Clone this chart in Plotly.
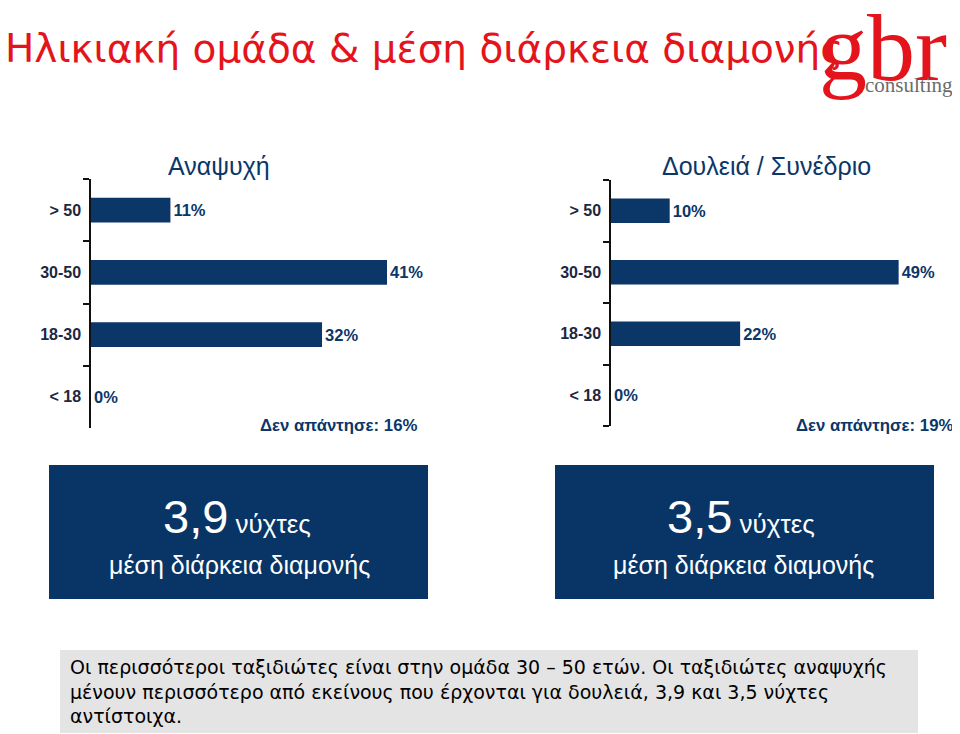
import plotly.graph_objects as go

W, H = 952, 726
OFF = 8  # page body margin

categories = ["> 50", "30-50", "18-30", "< 18"]
leisure_values = [11, 41, 32, 0]
business_values = [10, 49, 22, 0]
leisure_title = "Αναψυχή"
business_title = "Δουλειά / Συνέδριο"
leisure_noanswer = "Δεν απάντησε: 16%"
business_noanswer = "Δεν απάντησε: 19%"
leisure_nights = "3,9"
business_nights = "3,5"
main_title = "Ηλικιακή ομάδα & μέση διάρκεια διαμονής"
note_lines = [
    "Οι περισσότεροι ταξιδιώτες είναι στην ομάδα 30 – 50 ετών. Οι ταξιδιώτες αναψυχής",
    "μένουν περισσότερο από εκείνους που έρχονται για δουλειά, 3,9 και 3,5 νύχτες",
    "αντίστοιχα.",
]

NAVY = "#0b3668"
BOX = "#083566"
LABEL = "#1c2740"
RED = "#e3141b"


def px(x):
    return (x - OFF) / W


def py(y):
    return 1 - (y - OFF) / H


fig = go.Figure()

for vals, xa, ya in [(leisure_values, "x", "y"), (business_values, "x2", "y2")]:
    fig.add_trace(go.Bar(
        y=categories, x=vals, orientation="h",
        marker=dict(color=NAVY, line=dict(width=0)),
        texttemplate="%{x}%", textposition="outside",
        textfont=dict(family="Liberation Sans", size=16.5, color=NAVY, weight="bold"),
        cliponaxis=False, xaxis=xa, yaxis=ya, hoverinfo="skip",
    ))

yaxis_common = dict(
    type="category", categoryorder="array", categoryarray=categories[::-1],
    showline=True, linecolor="#111111", linewidth=1.5,
    ticks="outside", tickson="boundaries", ticklen=6, tickcolor="#111111", tickwidth=1.5,
    tickfont=dict(family="Liberation Sans", size=16, color=LABEL, weight="bold"),
    ticklabelstandoff=5, showgrid=False, zeroline=False, fixedrange=True,
)

fig.update_layout(
    width=W, height=H,
    margin=dict(l=0, r=0, t=0, b=0),
    paper_bgcolor="white", plot_bgcolor="white",
    showlegend=False, bargap=0.6,
    xaxis=dict(domain=[px(91), px(420)], range=[0, 329 / 7.22], visible=False, fixedrange=True),
    yaxis=dict(domain=[py(428), py(179)], anchor="x", **yaxis_common),
    xaxis2=dict(domain=[px(611), px(955)], range=[0, 344 / 5.87], visible=False, fixedrange=True),
    yaxis2=dict(domain=[py(426), py(180)], anchor="x2", **yaxis_common),
)

shapes = [
    dict(type="rect", xref="paper", yref="paper", x0=px(49), x1=px(428), y0=py(599), y1=py(465),
         fillcolor=BOX, line=dict(width=0), layer="below"),
    dict(type="rect", xref="paper", yref="paper", x0=px(555), x1=px(934), y0=py(599), y1=py(465),
         fillcolor=BOX, line=dict(width=0), layer="below"),
    dict(type="rect", xref="paper", yref="paper", x0=px(60), x1=px(918), y0=py(733), y1=py(650),
         fillcolor="#e4e4e4", line=dict(width=0), layer="below"),
]
fig.update_layout(shapes=shapes)

ann = []


def add(text, x, y, size, color, xanchor="center", yanchor="middle", family="Liberation Sans", weight="normal", align="center"):
    ann.append(dict(text=text, x=px(x), y=py(y), xref="paper", yref="paper",
                    xanchor=xanchor, yanchor=yanchor, showarrow=False, align=align,
                    font=dict(family=family, size=size, color=color, weight=weight)))


# Main title
add(main_title, 3, 48, 39, RED, xanchor="left", family="DejaVu Sans")
# Logo
add("gbr", 883, 47, 96, RED, family="Liberation Serif")
add("consulting", 909, 85, 21, "#6b6b6b", family="Liberation Serif")

# chart titles
add(leisure_title, 219, 166, 25, NAVY)
add(business_title, 766, 166, 25, NAVY)

# no-answer notes
add(leisure_noanswer, 419, 425, 16.8, NAVY, xanchor="right", weight="bold")
add(business_noanswer, 955, 425, 16.8, NAVY, xanchor="right", weight="bold")

# boxes
for cx, val in [(237, leisure_nights), (741, business_nights)]:
    add("<span style='font-size:47px'>" + val + "</span> νύχτες", cx, 516, 26, "white")
    add("μέση διάρκεια διαμονής", cx + 2, 565, 25, "white")

# bottom note
for i, line in enumerate(note_lines):
    add(line, 68, 667 + i * 24.5, 19, "black", xanchor="left", family="DejaVu Sans", align="left")

fig.update_layout(annotations=ann)

fig.write_html("out.html")
